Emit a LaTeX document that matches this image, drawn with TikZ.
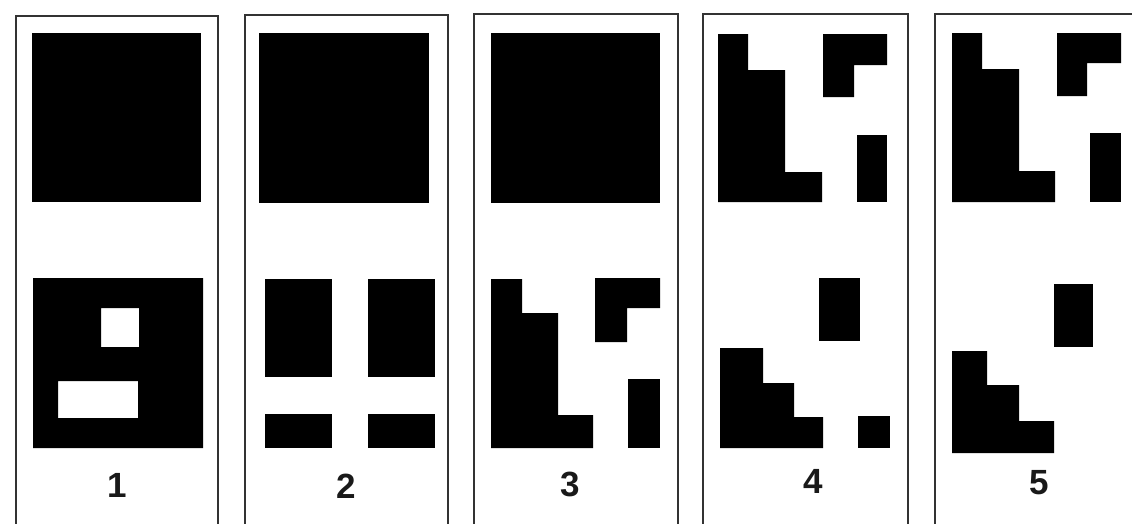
\documentclass[tikz,border=0pt]{standalone}
\usepackage{fontspec}
\setmainfont{Liberation Sans}
\begin{document}
\begin{tikzpicture}[x=1pt,y=-1pt]
\tikzset{
  frame/.style={draw=black!80,line width=2.5pt},
  blk/.style={fill=black},
  lbl/.style={font=\bfseries\fontsize{35}{35}\selectfont,text=black!90,inner sep=0pt}
}
\useasboundingbox[fill=white] (0,0) rectangle (1132,523);
% frames (open at the bottom)
\draw[frame] (16,530) -- (16,16) -- (218,16) -- (218,530);
\draw[frame] (245,530) -- (245,15) -- (448,15) -- (448,530);
\draw[frame] (474,530) -- (474,14) -- (678,14) -- (678,530);
\draw[frame] (703,530) -- (703,14) -- (908,14) -- (908,530);
\draw[frame] (935,530) -- (935,14) -- (1140,14);
% panel 1
\fill[blk] (32,33) rectangle (201,202);
\fill[blk,even odd rule] (33,278) rectangle (203,448)
  (101,308) rectangle (139,347)
  (58,381) rectangle (138,418);
% panel 2
\fill[blk] (259,33) rectangle (429,203);
\fill[blk] (265,279) rectangle (332,377);
\fill[blk] (368,279) rectangle (435,377);
\fill[blk] (265,414) rectangle (332,448);
\fill[blk] (368,414) rectangle (435,448);
% panel 3
\fill[blk] (491,33) rectangle (660,203);
\fill[blk] (491,279) -- (522,279) -- (522,313) -- (558,313) -- (558,415) -- (593,415) -- (593,448) -- (491,448) -- cycle;
\fill[blk] (595,278) -- (660,278) -- (660,308) -- (627,308) -- (627,342) -- (595,342) -- cycle;
\fill[blk] (628,379) rectangle (660,448);
% panel 4
\fill[blk] (718,34) -- (748,34) -- (748,70) -- (785,70) -- (785,172) -- (822,172) -- (822,202) -- (718,202) -- cycle;
\fill[blk] (823,34) -- (887,34) -- (887,65) -- (854,65) -- (854,97) -- (823,97) -- cycle;
\fill[blk] (857,135) rectangle (887,202);
\fill[blk] (819,278) rectangle (860,341);
\fill[blk] (720,348) -- (763,348) -- (763,383) -- (794,383) -- (794,417) -- (823,417) -- (823,448) -- (720,448) -- cycle;
\fill[blk] (858,416) rectangle (890,448);
% panel 5
\fill[blk] (952,33) -- (982,33) -- (982,69) -- (1019,69) -- (1019,171) -- (1055,171) -- (1055,202) -- (952,202) -- cycle;
\fill[blk] (1057,33) -- (1121,33) -- (1121,63) -- (1087,63) -- (1087,96) -- (1057,96) -- cycle;
\fill[blk] (1090,133) rectangle (1121,202);
\fill[blk] (1054,284) rectangle (1093,347);
\fill[blk] (952,351) -- (987,351) -- (987,385) -- (1019,385) -- (1019,421) -- (1054,421) -- (1054,453) -- (952,453) -- cycle;
% labels
\node[lbl] (n1) at (117,485.5) {1};
\node[lbl] (n2) at (346,486) {2};
\node[lbl] (n3) at (570,484) {3};
\node[lbl] (n4) at (813,481) {4};
\node[lbl] (n5) at (1039,483) {5};
\end{tikzpicture}
\end{document}
